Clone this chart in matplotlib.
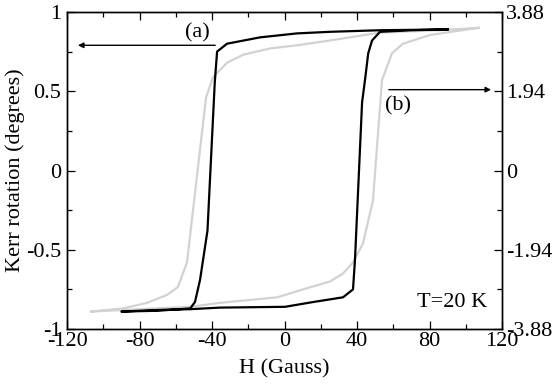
import numpy as np
import matplotlib.pyplot as plt
from matplotlib.ticker import MultipleLocator

plt.rcParams['font.family'] = ['Liberation Serif', 'DejaVu Serif']
plt.rcParams['axes.unicode_minus'] = False

# loop (a): black, descending branch then ascending branch
h_a = [90, 52.7, 25, 6.9, -13.5, -31.7, -37.2, -38.5, -42.5, -46.6, -49.4, -52, -70, -90,
       -70, -52, -35.6, 0.3, 15.7, 32.3, 37.8, 38.9, 42.8, 44.4, 46.2, 48.3, 52.7, 70, 90]
k_a = [0.89, 0.885, 0.875, 0.865, 0.84, 0.80, 0.75, 0.55, -0.38, -0.69, -0.83, -0.87, -0.885, -0.89,
       -0.88, -0.875, -0.865, -0.86, -0.83, -0.80, -0.75, -0.56, 0.43, 0.57, 0.74, 0.82, 0.875, 0.885, 0.89]

# loop (b): grey
h_b = [107, 85, 52.7, 25, 6.9, -8, -22.9, -31.7, -39.4, -43.3, -53.8, -58.8, -64.8, -75.9, -89, -107,
       -80, -52, -35.6, -4, 10.2, 25.1, 32.3, 37.8, 43.3, 48.8, 53.8, 59.3, 65.4, 80.3, 107]
k_b = [0.90, 0.885, 0.87, 0.82, 0.79, 0.77, 0.73, 0.68, 0.59, 0.46, -0.58, -0.735, -0.785, -0.835, -0.87, -0.89,
       -0.875, -0.86, -0.835, -0.80, -0.75, -0.70, -0.65, -0.58, -0.46, -0.19, 0.57, 0.74, 0.80, 0.855, 0.90]

left_ticks = [-1, -0.5, 0, 0.5, 1]
left_labels = ['-1', '-0.5', '0', '0.5', '1']
right_ticks = [-3.88, -1.94, 0, 1.94, 3.88]
right_labels = ['-3.88', '-1.94', '0', '1.94', '3.88']

fs = 16
fig = plt.figure(figsize=(5.59, 3.84), dpi=100)
ax = fig.add_axes([67/559, 55/384, 435/559, 317/384])
ax.plot(h_b, k_b, color='#d2d2d2', lw=1.6)
ax.plot(h_a, k_a, color='black', lw=1.6)

ax.set_xlim(-120, 120)
ax.set_ylim(-1, 1)
ax.xaxis.set_major_locator(MultipleLocator(40))
ax.xaxis.set_minor_locator(MultipleLocator(20))
ax.set_yticks(left_ticks)
ax.set_yticklabels(left_labels)
ax.yaxis.set_minor_locator(MultipleLocator(0.25))
ax.tick_params(which='both', direction='in', top=True, right=False, labelsize=fs)
ax.tick_params(which='major', length=6, width=0.9)
ax.tick_params(which='minor', length=3.8, width=0.9)
ax.tick_params(axis='x', pad=2)
ax.tick_params(axis='y', pad=4)
ax.set_xlabel('H (Gauss)', fontsize=fs, labelpad=6)
ax.set_ylabel('Kerr rotation (degrees)', fontsize=fs, labelpad=1)

ax2 = ax.twinx()
ax2.set_ylim(-3.88, 3.88)
ax2.set_yticks(right_ticks)
ax2.set_yticklabels(right_labels)
ax2.yaxis.set_minor_locator(MultipleLocator(0.97))
ax2.tick_params(which='both', direction='in', labelsize=fs, pad=3)
ax2.tick_params(which='major', length=6, width=0.9)
ax2.tick_params(which='minor', length=3.8, width=0.9)

for a in (ax, ax2):
    for s in a.spines.values():
        s.set_linewidth(1.0)

ax.annotate('', xy=(-115.5, 0.79), xytext=(-36.7, 0.79),
            arrowprops=dict(arrowstyle='-|>', color='black', lw=1.0, mutation_scale=8))
ax.text(-48.3, 0.87, '(a)', fontsize=fs, ha='center', va='center')
ax.annotate('', xy=(115.5, 0.51), xytext=(56, 0.51),
            arrowprops=dict(arrowstyle='-|>', color='black', lw=1.0, mutation_scale=8))
ax.text(62.6, 0.41, '(b)', fontsize=fs, ha='center', va='center')
ax.text(112, -0.83, 'T=20 K', fontsize=fs, ha='right', va='center')

fig.savefig('out.png', dpi=100)
